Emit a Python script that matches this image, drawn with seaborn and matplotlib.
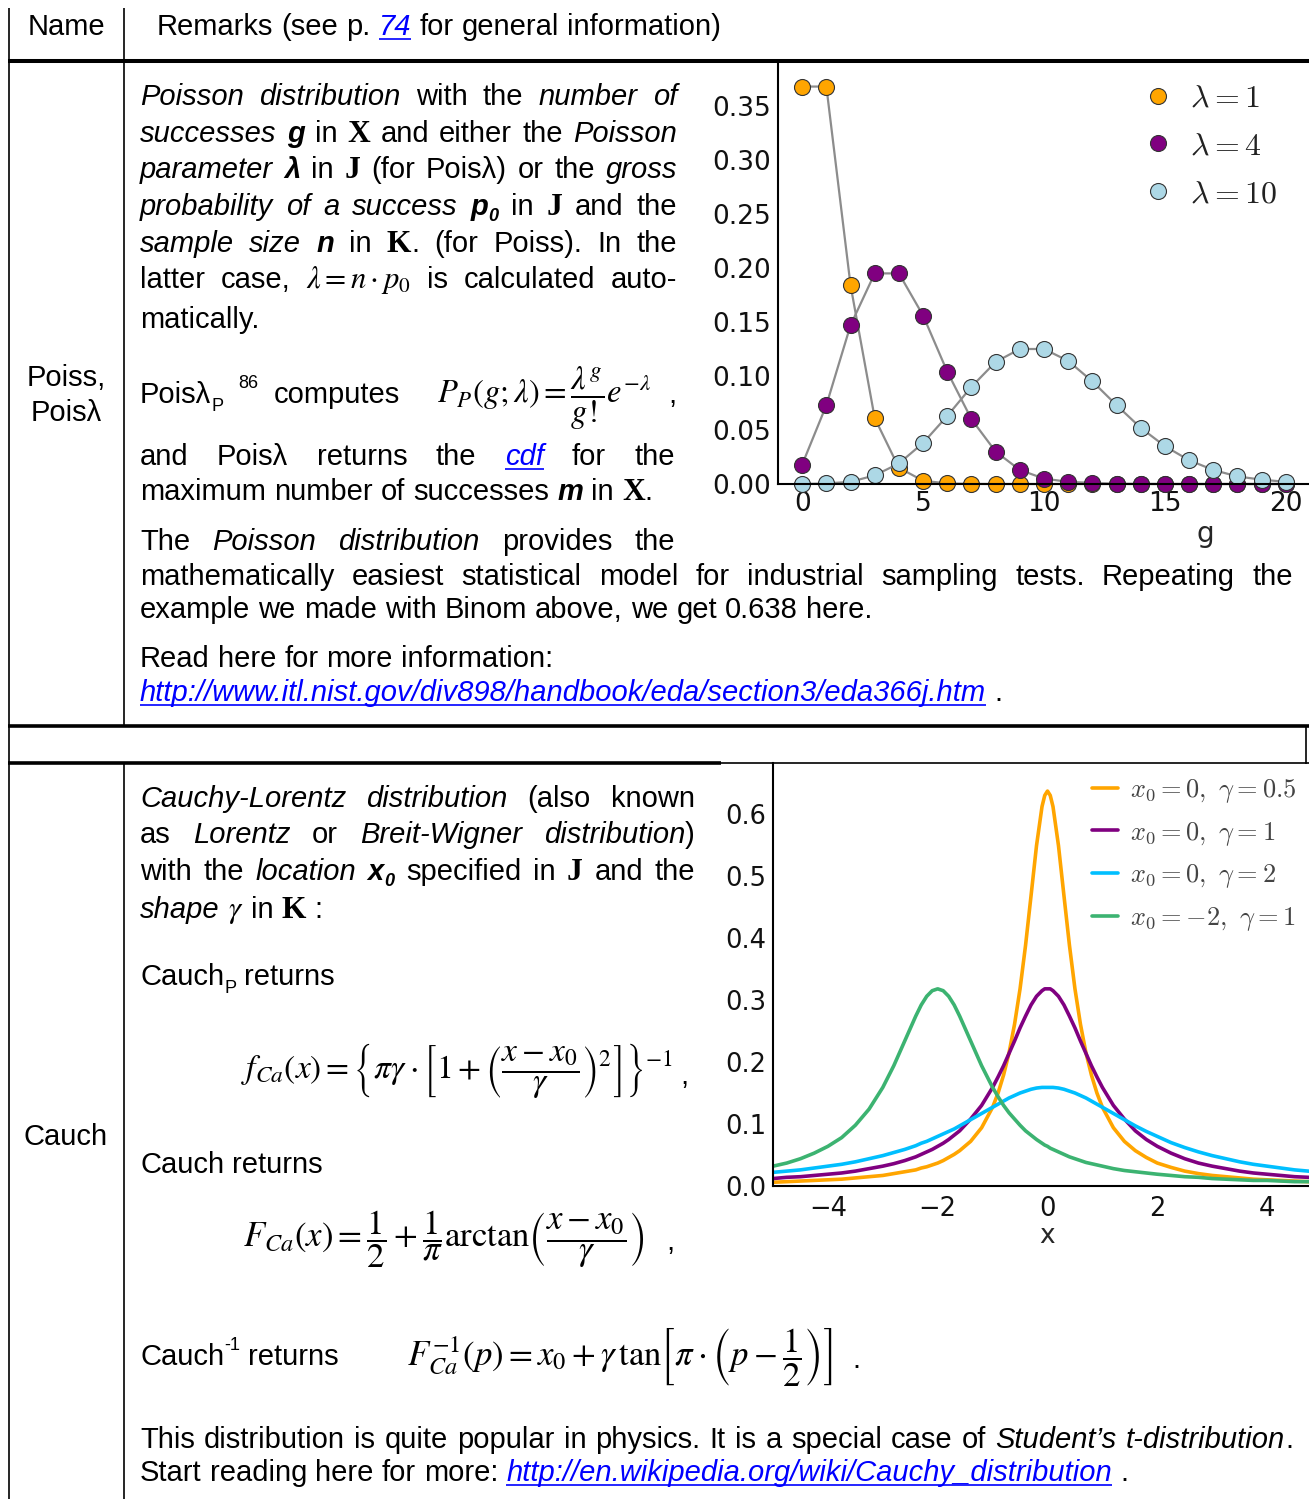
import numpy as np
import pandas as pd
import matplotlib
matplotlib.use("Agg")
import matplotlib.pyplot as plt
import matplotlib.ticker as mticker
from matplotlib.lines import Line2D
from matplotlib.font_manager import FontProperties
import seaborn as sns

W, H = 1309, 1499
FS = 21.0
SANS = "Liberation Sans"
SERIF = "Liberation Serif"
LINK = "#0000FF"

# ------------------------------------------------------------------ #
#  Data                                       #
# ------------------------------------------------------------------ #
K = list(range(21))
P_LAM1 = [0.368, 0.368, 0.184, 0.061, 0.015, 0.003, 0.0005, 0.0001, 0, 0, 0,
          0, 0, 0, 0, 0, 0, 0, 0, 0, 0]
P_LAM4 = [0.018, 0.073, 0.147, 0.195, 0.195, 0.156, 0.104, 0.060, 0.030, 0.013, 0.005,
          0.002, 0.001, 0.0002, 0.0001, 0, 0, 0, 0, 0, 0]
P_LAM10 = [0.0, 0.0005, 0.002, 0.008, 0.019, 0.038, 0.063, 0.090, 0.113, 0.125, 0.125,
           0.114, 0.095, 0.073, 0.052, 0.035, 0.022, 0.013, 0.007, 0.004, 0.002]
POIS_LABELS = [r"$\lambda=1$", r"$\lambda=4$", r"$\lambda=10$"]
POIS_COLORS = ["#FFA500", "#800080", "#ADD8E6"]
POIS_XTICKS = [0, 5, 10, 15, 20]
POIS_YTICKS = [0.0, 0.05, 0.10, 0.15, 0.20, 0.25, 0.30, 0.35]

CX = [-5, -4.75, -4.5, -4.25, -4, -3.75, -3.5, -3.25, -3, -2.8, -2.6, -2.4, -2.3, -2.2,
      -2.1, -2, -1.9, -1.8, -1.7, -1.6, -1.4, -1.2,
      -1, -0.9, -0.8, -0.7, -0.6, -0.5, -0.4, -0.3, -0.2, -0.1,
      -0.05, 0, 0.05,
      0.1, 0.2, 0.3, 0.4, 0.5, 0.6, 0.7, 0.8, 0.9, 1,
      1.2, 1.4, 1.6, 1.8, 2,
      2.25, 2.5, 2.75, 3, 3.25, 3.5, 3.75, 4, 4.25, 4.5, 4.75, 5]
C_X0_G05 = [0.006, 0.007, 0.008, 0.009, 0.010, 0.011, 0.013, 0.015, 0.017, 0.020, 0.023,
            0.026, 0.029, 0.031, 0.034, 0.037, 0.041, 0.046, 0.051, 0.057, 0.072, 0.094,
            0.127, 0.150, 0.179, 0.215, 0.261, 0.318, 0.388, 0.468, 0.549, 0.612,
            0.630, 0.637, 0.630,
            0.612, 0.549, 0.468, 0.388, 0.318, 0.261, 0.215, 0.179, 0.150, 0.127,
            0.094, 0.072, 0.057, 0.046, 0.037,
            0.030, 0.024, 0.020, 0.017, 0.015, 0.013, 0.011, 0.010, 0.009, 0.008, 0.007,
            0.006]
C_X0_G1 = [0.012, 0.014, 0.015, 0.017, 0.019, 0.021, 0.024, 0.028, 0.032, 0.036, 0.041,
           0.047, 0.051, 0.055, 0.059, 0.064, 0.069, 0.075, 0.082, 0.089, 0.108, 0.130,
           0.159, 0.176, 0.194, 0.214, 0.234, 0.255, 0.274, 0.292, 0.306, 0.315,
           0.318, 0.318, 0.318,
           0.315, 0.306, 0.292, 0.274, 0.255, 0.234, 0.214, 0.194, 0.176, 0.159,
           0.130, 0.108, 0.089, 0.075, 0.064,
           0.053, 0.044, 0.037, 0.032, 0.028, 0.024, 0.021, 0.019, 0.017, 0.015, 0.014,
           0.012]
C_X0_G2 = [0.022, 0.024, 0.026, 0.029, 0.032, 0.035, 0.039, 0.044, 0.049, 0.054, 0.059,
           0.065, 0.069, 0.072, 0.076, 0.080, 0.084, 0.088, 0.092, 0.097, 0.107, 0.117,
           0.127, 0.132, 0.137, 0.142, 0.146, 0.150, 0.153, 0.156, 0.158, 0.159,
           0.159, 0.159, 0.159,
           0.159, 0.158, 0.156, 0.153, 0.150, 0.146, 0.142, 0.137, 0.132, 0.127,
           0.117, 0.107, 0.097, 0.088, 0.080,
           0.070, 0.062, 0.055, 0.049, 0.044, 0.039, 0.035, 0.032, 0.029, 0.026, 0.024,
           0.022]
C_XM2_G1 = [0.032, 0.037, 0.044, 0.053, 0.064, 0.078, 0.098, 0.124, 0.159, 0.194, 0.234,
            0.274, 0.292, 0.306, 0.315, 0.318, 0.315, 0.306, 0.292, 0.274, 0.234, 0.194,
            0.159, 0.144, 0.130, 0.118, 0.108, 0.098, 0.089, 0.082, 0.075, 0.069,
            0.066, 0.064, 0.061,
            0.059, 0.055, 0.051, 0.047, 0.044, 0.041, 0.038, 0.036, 0.034, 0.032,
            0.028, 0.025, 0.023, 0.021, 0.019,
            0.017, 0.015, 0.014, 0.012, 0.011, 0.010, 0.009, 0.009, 0.008, 0.007, 0.007,
            0.006]
CAUCHY_LABELS = [r"$x_0=0,\ \gamma=0.5$", r"$x_0=0,\ \gamma=1$",
                 r"$x_0=0,\ \gamma=2$", r"$x_0=-2,\ \gamma=1$"]
CAUCHY_COLORS = ["#FFA500", "#800080", "#00BFFF", "#3CB371"]
CAUCHY_XTICKS = [-4, -2, 0, 2, 4]
CAUCHY_YTICKS = [0.0, 0.1, 0.2, 0.3, 0.4, 0.5, 0.6]

# ------------------------------------------------------------------ #
#  Figure and text helpers (coordinates in pixels from top-left)      #
# ------------------------------------------------------------------ #
sns.set_style("white")
plt.rcParams["font.family"] = ["DejaVu Sans"]

fig = plt.figure(figsize=(W / 100, H / 100), dpi=100)
renderer = fig.canvas.get_renderer()


def style(st):
    d = dict(family=SANS, size=FS, color="black")
    if st == "i":
        d.update(style="italic")
    elif st == "bi":
        d.update(style="italic", weight="bold")
    elif st == "tb":
        d.update(family=SERIF, weight="bold", size=FS * 1.08)
    elif st == "lk":
        d.update(style="italic", color=LINK)
    elif st in ("sub", "sup"):
        d.update(size=FS * 0.62)
    elif st == "bisub":
        d.update(style="italic", weight="bold", size=FS * 0.62)
    elif st == "m":
        d.update(family=SERIF, math_fontfamily="stix", size=FS * 1.05)
    return d


DY = {"sub": 8, "bisub": 6, "sup": -15}
SPACE = 0.278 * FS * 100 / 72


def text_px(x, y, s, **kw):
    return fig.text(x / W, 1 - y / H, s, va="baseline", ha="left", **kw)


def width_px(t):
    return t.get_window_extent(renderer=renderer).width


def hline(y, x0, x1, lw, color="black"):
    fig.add_artist(Line2D([x0 / W, x1 / W], [1 - y / H] * 2, transform=fig.transFigure,
                          color=color, lw=lw, solid_capstyle="butt"))


def vline(x, y0, y1, lw):
    fig.add_artist(Line2D([x / W] * 2, [1 - y0 / H, 1 - y1 / H], transform=fig.transFigure,
                          color="black", lw=lw, solid_capstyle="butt"))


def put_line(y, line, x0=140, x1=None):
    words = []
    for tok in line.split(" "):
        runs = []
        for part in tok.split("|"):
            st, txt = part.split("~", 1) if "~" in part else ("n", part)
            t = text_px(0, y + DY.get(st, 0), txt, **style(st))
            runs.append((t, width_px(t), st))
        words.append(runs)
    total = sum(w for runs in words for _, w, _ in runs)
    gap = SPACE if (x1 is None or len(words) < 2) else (x1 - x0 - total) / (len(words) - 1)
    x = x0
    for runs in words:
        for t, w, st in runs:
            t.set_x(x / W)
            if st == "lk":
                hline(y + 4, x, x + w, 1.2, LINK)
            x += w
        x += gap


def formula(x, y, s, size):
    return text_px(x, y, s, family=SERIF, math_fontfamily="stix", size=size, color="black")


# ------------------------------------------------------------------ #
#  Table rules                                                         #
# ------------------------------------------------------------------ #
vline(9, 8, H, 1.2)
vline(124, 8, 725, 1.2)
vline(124, 764, H, 1.2)
vline(1306, 725, 764, 1.2)
hline(61, 8, W, 2.9)
hline(725.5, 8, W, 2.6)
hline(763.5, 8, 721, 2.6)
hline(762.5, 721, W, 1.2)

# header
put_line(35, "Name", x0=28)
put_line(35, "Remarks (see p. lk~74 for general information)", x0=157)

# left column names
for y, s in [(386, "Poiss,"), (421, "Poisλ"), (1145, "Cauch")]:
    fig.text(66 / W, 1 - y / H, s, va="baseline", ha="center", **style("n"))

# ------------------------------------------------------------------ #
#  Poisson text                                                        #
# ------------------------------------------------------------------ #
put_line(105, "i~Poisson i~distribution with the i~number i~of", x1=677)
put_line(142, "i~successes bi~g in tb~X and either the i~Poisson", x1=677)
put_line(178, "i~parameter bi~λ in tb~J (for Poisλ) or the i~gross", x1=677)
put_line(215, "i~probability i~of i~a i~success bi~p|bisub~0 in tb~J and the", x1=677)
put_line(252, "i~sample i~size bi~n in tb~K|n~. (for Poiss). In the", x1=677)
put_line(288, r"latter case, m~$\lambda=n\cdot{p_0}$ is calculated auto-", x1=677)
put_line(328, "matically.")
put_line(403, "Poisλ|sub~P sup~86 computes", x1=400)
formula(437, 403, r"$P_P(g;\lambda)=\dfrac{\lambda^g}{g!}e^{-\lambda}$", 23.5)
text_px(668, 403, ",", **style("n"))
put_line(465, "and Poisλ returns the lk~cdf for the", x1=675)
put_line(500, "maximum number of successes bi~m in tb~X|n~.")
put_line(550, "The i~Poisson i~distribution provides the", x1=675)
put_line(585, "mathematically easiest statistical model for industrial sampling tests. "
              "Repeating the", x1=1293)
put_line(618, "example we made with Binom above, we get 0.638 here.")
put_line(667, "Read here for more information:")
put_line(701, "lk~http://www.itl.nist.gov/div898/handbook/eda/section3/eda366j.htm n~.")

# ------------------------------------------------------------------ #
#  Cauchy text                                                         #
# ------------------------------------------------------------------ #
put_line(807, "i~Cauchy-Lorentz i~distribution (also known", x1=695)
put_line(843, "as i~Lorentz or i~Breit-Wigner i~distribution|n~)", x1=695)
put_line(880, "with the i~location bi~x|bisub~0 specified in tb~J and the", x1=695)
put_line(918, r"i~shape m~$\gamma$ in tb~K :")
put_line(985, "Cauch|sub~P returns")
formula(241, 1078,
        r"$f_{Ca}\left(x\right)=\left\{\pi\gamma\cdot\left[1+\left(\dfrac{x-x_0}"
        r"{\gamma}\right)^2\right]\right\}^{-1}$", 24)
text_px(680, 1084, ",", **style("n"))
put_line(1173, "Cauch returns")
formula(243, 1247,
        r"$F_{Ca}\left(x\right)=\dfrac{1}{2}+\dfrac{1}{\pi}\mathrm{arctan}"
        r"\left(\dfrac{x-x_0}{\gamma}\right)$", 25)
text_px(666, 1250, ",", **style("n"))
put_line(1365, "Cauch|sup~-1 returns")
formula(407, 1365,
        r"$F_{Ca}^{-1}\left(p\right)=x_0+\gamma\,\mathrm{tan}\left[\pi\cdot"
        r"\left(p-\dfrac{1}{2}\right)\right]$", 25)
text_px(852, 1368, ".", **style("n"))
put_line(1448, "This distribution is quite popular in physics. It is a special case of "
               "i~Student’s i~t-distribution|n~.", x1=1293)
put_line(1481, "Start reading here for more: "
               "lk~http://en.wikipedia.org/wiki/Cauchy_distribution n~.")

# ------------------------------------------------------------------ #
#  Poisson chart                                                       #
# ------------------------------------------------------------------ #
axp = fig.add_axes([778 / W, 1 - 484 / H, (1310 - 778) / W, (484 - 62) / H])
axp.patch.set_alpha(0)
for vals, col in zip([P_LAM1, P_LAM4, P_LAM10], POIS_COLORS):
    sns.lineplot(x=K, y=vals, ax=axp, color="#8c8c8c", lw=1.6, marker="o",
                 markersize=11.5, markerfacecolor=col, markeredgecolor="#333333",
                 markeredgewidth=0.8, clip_on=False)
axp.set_xlim(-1, 21)
axp.set_ylim(0, (484 - 62) / 1080)
axp.set_xticks(POIS_XTICKS)
axp.set_yticks(POIS_YTICKS)
axp.yaxis.set_major_formatter(mticker.FormatStrFormatter("%.2f"))
axp.set_xlabel("g", fontsize=20)
axp.xaxis.set_label_coords((1205 - 778) / (1310 - 778), -0.085)
axp.set_ylabel("")
p_handles = [Line2D([], [], ls="none", marker="o", markersize=11.5, markerfacecolor=c,
                    markeredgecolor="#333333", markeredgewidth=0.8) for c in POIS_COLORS]
axp.legend(p_handles, POIS_LABELS, loc="center left",
           bbox_to_anchor=(1142 / W, 1 - 146 / H), bbox_transform=fig.transFigure,
           frameon=False, prop=FontProperties(size=23, math_fontfamily="cm"),
           handlelength=1.0, handletextpad=0.5, labelspacing=0.52, borderpad=0,
           borderaxespad=0, numpoints=1, labelcolor="#222222")

# ------------------------------------------------------------------ #
#  Cauchy chart                                                        #
# ------------------------------------------------------------------ #
df_c = pd.DataFrame({
    "x": CX * 4,
    "f": C_X0_G05 + C_X0_G1 + C_X0_G2 + C_XM2_G1,
    "curve": [lab for lab in CAUCHY_LABELS for _ in CX],
})
axc = fig.add_axes([773 / W, 1 - 1186 / H, (1322 - 773) / W, (1186 - 763) / H])
axc.patch.set_alpha(0)
sns.lineplot(data=df_c, x="x", y="f", hue="curve",
             palette=dict(zip(CAUCHY_LABELS, CAUCHY_COLORS)), lw=2.6, ax=axc,
             legend=False, solid_joinstyle="round")
axc.set_xlim(-5, 5)
axc.set_ylim(0, (1186 - 763) / 620)
axc.set_xticks(CAUCHY_XTICKS)
axc.set_yticks(CAUCHY_YTICKS)
axc.yaxis.set_major_formatter(mticker.FormatStrFormatter("%.1f"))
axc.set_xlabel("x", fontsize=19, labelpad=1)
axc.set_ylabel("")
c_handles = [Line2D([], [], color=c, lw=2.6) for c in CAUCHY_COLORS]
axc.legend(c_handles, CAUCHY_LABELS, loc="center left",
           bbox_to_anchor=(1092 / W, 1 - 855 / H), bbox_transform=fig.transFigure,
           frameon=False, prop=FontProperties(size=19, math_fontfamily="cm"),
           handlelength=1.0, handletextpad=0.45, labelspacing=0.56, borderpad=0,
           borderaxespad=0, labelcolor="#444444")

for ax, ls, pad in [(axp, 19, 5), (axc, 18.5, 7)]:
    for side in ["top", "right"]:
        ax.spines[side].set_visible(False)
    for side in ["left", "bottom"]:
        ax.spines[side].set_color("black")
        ax.spines[side].set_linewidth(1.5)
    ax.tick_params(direction="in", length=5, width=1, labelsize=ls, pad=pad,
                   labelcolor="#111111", color="black")
    ax.tick_params(axis="y", pad=5)

fig.savefig("out.png", dpi=100)
